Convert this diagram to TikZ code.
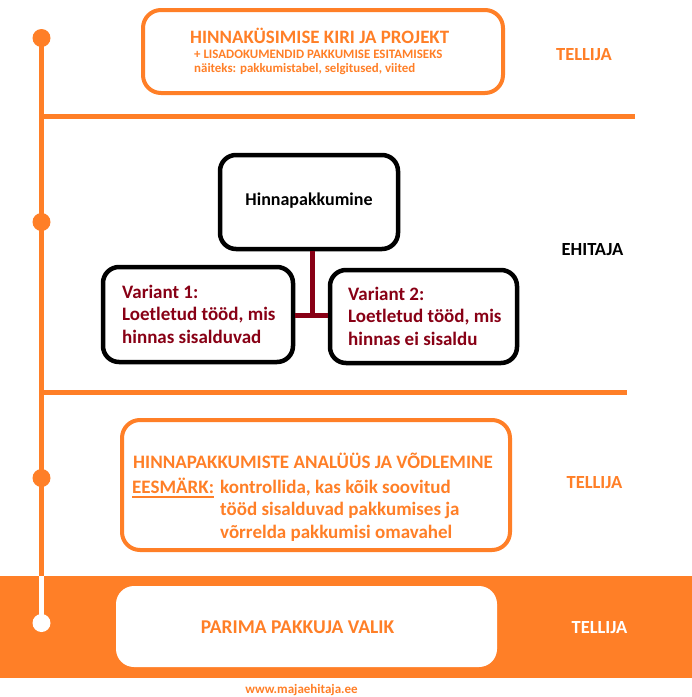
\documentclass[tikz,border=0pt]{standalone}
\usepackage{fontspec}
\setmainfont{Carlito}
\definecolor{org}{HTML}{FF7F27}
\definecolor{dred}{HTML}{880015}
\newcommand{\fs}[1]{\fontsize{#1}{#1}\selectfont\bfseries}
\begin{document}
\begin{tikzpicture}[x=1pt,y=-1pt,
  obox/.style={draw=org, line width=4pt, rounded corners=18pt, inner sep=0pt},
  kbox/.style={draw=black, line width=4.5pt, rounded corners=16pt, inner sep=0pt},
  wbox/.style={fill=white, rounded corners=18pt, inner sep=0pt},
  tl/.style={anchor=base west, inner sep=0pt},
  tc/.style={anchor=base, inner sep=0pt},
  oline/.style={draw=org, line width=5pt},
  conn/.style={draw=dred, line width=5pt},
  dot/.style={circle, fill=org, minimum size=18pt, inner sep=0pt}]
\useasboundingbox (0,0) rectangle (692,697);
\fill[white] (0,0) rectangle (692,697);
% bottom band
\fill[org] (0,576) rectangle (692,678);
% timeline
\node[dot] (d1) at (41.5,38) {};
\node[dot] (d2) at (41.5,222) {};
\node[dot] (d3) at (41.5,478) {};
\node[dot, fill=white] (d4) at (41.5,623) {};
\coordinate (bandtop) at (41.5,576);
\draw[oline] (d1.center) -- (bandtop);
\draw[draw=white, line width=5pt] (bandtop) -- (d4.center);
\coordinate (h1a) at (41.5,116);
\coordinate (h1b) at (635,116);
\coordinate (h2a) at (41.5,392.5);
\coordinate (h2b) at (627,392.5);
\draw[oline] (h1a) -- (h1b);
\draw[oline] (h2a) -- (h2b);
% top box
\node[obox, minimum width=360pt, minimum height=83pt] (top) at (323,51.5) {};
\node[tl, org, font=\fs{18.9}] (t1) at (190,43) {HINNAKÜSIMISE KIRI JA PROJEKT};
\node[tl, org, font=\fs{12.9}] (t2) at (194,58) {+ LISADOKUMENDID PAKKUMISE ESITAMISEKS};
\node[tl, org, font=\fs{12.9}] (t3) at (194,72) {näiteks: pakkumistabel, selgitused, viited};
\node[tc, org, font=\fs{18.5}] (r1) at (584,60) {TELLIJA};
% middle
\node[kbox, minimum width=178pt, minimum height=94pt] (hp) at (309,202) {};
\node[tc, font=\fs{18}] (hpt) at (309,205) {Hinnapakkumine};
\node[kbox, minimum width=190pt, minimum height=95pt] (v1) at (198,314.5) {};
\node[kbox, minimum width=187pt, minimum height=93pt] (v2) at (423.5,316.5) {};
\coordinate (j) at (312,315);
\draw[conn] (hp.south -| j) -- (j);
\draw[conn] (v1.east |- j) -- (v2.west |- j);
\node[tl, dred, font=\fs{19}] (v1a) at (122,298) {Variant 1:};
\node[tl, dred, font=\fs{19}] (v1b) at (122,320.5) {Loetletud tööd, mis};
\node[tl, dred, font=\fs{19}] (v1c) at (122,343) {hinnas sisalduvad};
\node[tl, dred, font=\fs{19}] (v2a) at (348,300) {Variant 2:};
\node[tl, dred, font=\fs{19}] (v2b) at (348,322.5) {Loetletud tööd, mis};
\node[tl, dred, font=\fs{19}] (v2c) at (348,345) {hinnas ei sisaldu};
\node[tc, font=\fs{18.5}] (r2) at (592.5,255) {EHITAJA};
% analysis box
\node[obox, minimum width=388pt, minimum height=130pt] (an) at (316,485) {};
\node[tl, org, font=\fs{19}] (a1) at (133,468) {HINNAPAKKUMISTE ANALÜÜS JA VÕDLEMINE};
\node[tl, org, font=\fs{19}] (ees) at (132,493) {EESMÄRK:};
\draw[org, line width=2.5pt] ([yshift=-4pt]ees.base west) -- ([yshift=-4pt]ees.base east);
\node[tl, org, font=\fs{19}] (a2) at (220,493) {kontrollida, kas kõik soovitud};
\node[tl, org, font=\fs{19}] (a3) at (220,515.5) {tööd sisalduvad pakkumises ja};
\node[tl, org, font=\fs{19}] (a4) at (220,538) {võrrelda pakkumisi omavahel};
\node[tc, org, font=\fs{18.5}] (r3) at (594.5,488) {TELLIJA};
% final
\node[wbox, minimum width=381pt, minimum height=81pt] (fin) at (306.5,626.5) {};
\node[tc, org, font=\fs{19.5}] (fint) at (297.5,633.5) {PARIMA PAKKUJA VALIK};
\node[tc, white, font=\fs{18.5}] (r4) at (599.5,633.5) {TELLIJA};
\node[tc, org, font=\fs{13}] (web) at (301.5,693) {www.majaehitaja.ee};
\end{tikzpicture}
\end{document}
